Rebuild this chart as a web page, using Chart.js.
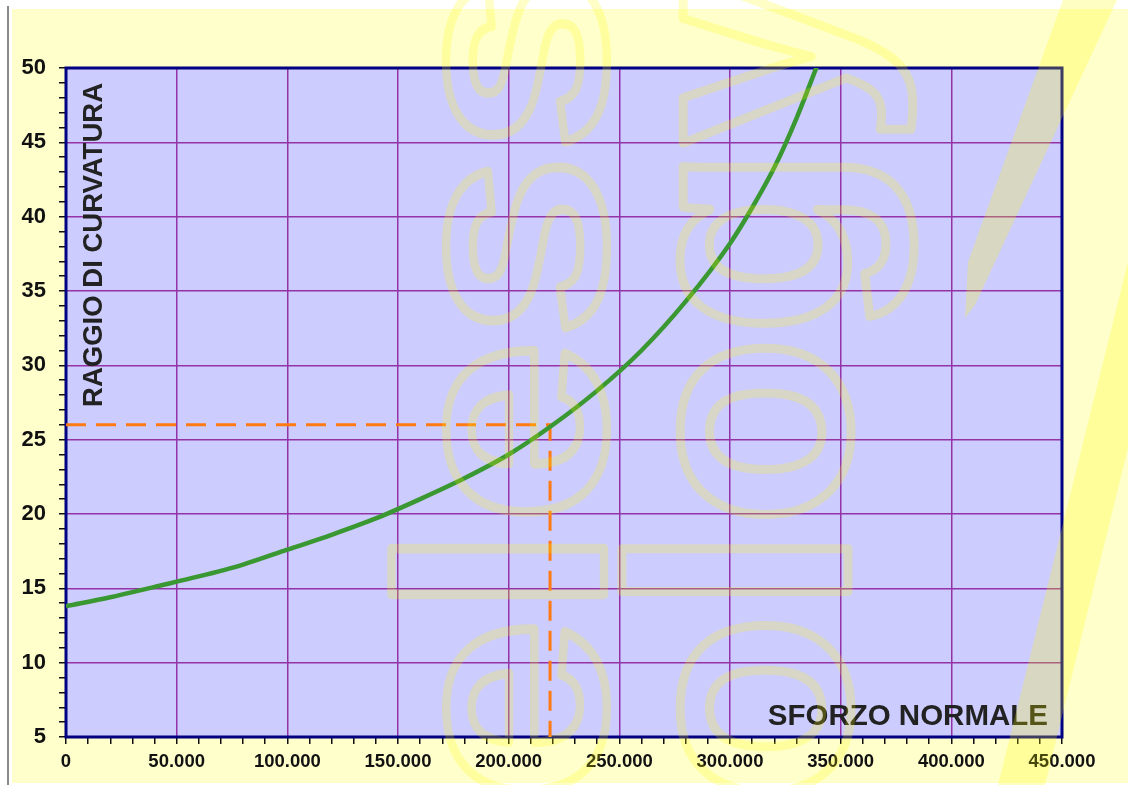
<!DOCTYPE html>
<html>
<head>
<meta charset="utf-8">
<script src="https://cdn.jsdelivr.net/npm/chart.js@4"></script>
<style>
  html, body { margin: 0; padding: 0; background: #fff; }
  canvas { display: block; }
</style>
</head>
<body>
<canvas id="grafico" width="1128" height="785"></canvas>
<script>
// dati
const sforzo = [0, 20000, 40000, 60000, 80000, 100000, 120000, 140000, 160000, 180000,
  200000, 220000, 240000, 260000, 280000, 300000, 310000, 320000, 330000, 340000];
const raggio = [13.8, 14.4, 15.1, 15.8, 16.6, 17.6, 18.6, 19.7, 21.0, 22.4,
  24.0, 26.0, 28.3, 31.0, 34.3, 38.2, 40.6, 43.3, 46.6, 50.4];

// punto di lettura (linea tratteggiata)
const sforzoLetto = 218700;
const raggioLetto = 26;

const xLabels = ['0', '50.000', '100.000', '150.000', '200.000', '250.000', '300.000', '350.000', '400.000', '450.000'];
const yLabels = [5, 10, 15, 20, 25, 30, 35, 40, 45, 50];

const W = 1128, H = 785;
const FONT = "'Liberation Sans', Arial, sans-serif";
const viola = '#9433a8';

const curva = sforzo.map((s, i) => ({ x: s, y: raggio[i] }));
const lettura = [
  { x: 0, y: raggioLetto },
  { x: sforzoLetto, y: raggioLetto },
  { x: sforzoLetto, y: yLabels[0] }
];

const sfondo = {
  id: 'sfondo',
  beforeDraw(chart) {
    const { ctx, chartArea: a } = chart;
    ctx.save();
    ctx.fillStyle = '#ffffff';
    ctx.fillRect(0, 0, W, H);
    ctx.fillStyle = '#ffffcc';
    ctx.fillRect(12, 9, W - 12, H - 11);
    ctx.fillStyle = '#8a8a8a';
    ctx.fillRect(7, 6, 2, H - 6);
    ctx.fillStyle = '#ccccff';
    ctx.fillRect(a.left, a.top, a.right - a.left, a.bottom - a.top);
    ctx.restore();
  },
  beforeDatasetsDraw(chart) {
    const { ctx, chartArea: a } = chart;
    ctx.save();
    ctx.strokeStyle = '#000080';
    ctx.lineWidth = 3;
    ctx.strokeRect(a.left, a.top, a.right - a.left, a.bottom - a.top);

    // titoli degli assi dentro il grafico
    ctx.fillStyle = '#222';
    ctx.font = 'bold 29.5px ' + FONT;
    ctx.textAlign = 'right';
    ctx.textBaseline = 'alphabetic';
    ctx.fillText('SFORZO NORMALE', a.right - 14, a.bottom - 12);

    ctx.translate(a.left + 28, a.top + 15);
    ctx.rotate(-Math.PI / 2);
    ctx.font = 'bold 27.5px ' + FONT;
    ctx.textAlign = 'right';
    ctx.textBaseline = 'middle';
    ctx.fillText('RAGGIO DI CURVATURA', 0, 0);
    ctx.restore();
  },
  afterDraw(chart) {
    // filigrana
    const { ctx } = chart;
    ctx.save();
    ctx.fillStyle = 'rgba(255,250,0,0.24)';
    ctx.beginPath();
    ctx.moveTo(1063, 0); ctx.lineTo(1117, 0); ctx.lineTo(975, 305);
    ctx.lineTo(965, 318); ctx.lineTo(968, 262);
    ctx.closePath();
    ctx.fill();
    ctx.beginPath();
    ctx.moveTo(1128, 262); ctx.lineTo(1128, 448); ctx.lineTo(1045, 785); ctx.lineTo(998, 785);
    ctx.closePath();
    ctx.fill();

    ctx.strokeStyle = 'rgba(255,250,0,0.22)';
    ctx.lineWidth = 9;
    ctx.lineJoin = 'round';
    ctx.font = 'bold 312px ' + FONT;
    ctx.textAlign = 'right';
    ctx.textBaseline = 'alphabetic';
    [['Wireless', 604, -32, 1.07, 0.94], ['Technology', 848, -28, 1, 1]].forEach(([t, x, y, sx, sy]) => {
      ctx.save();
      ctx.translate(x, y);
      ctx.rotate(-Math.PI / 2);
      ctx.scale(sx, sy);
      ctx.strokeText(t, 0, 0);
      ctx.restore();
    });
    ctx.restore();
  }
};

new Chart(document.getElementById('grafico'), {
  type: 'line',
  data: {
    datasets: [
      {
        data: curva,
        borderColor: '#3a9832',
        borderWidth: 4.5,
        pointRadius: 0,
        cubicInterpolationMode: 'monotone',
        fill: false
      },
      {
        data: lettura,
        borderColor: '#ff7a12',
        borderWidth: 3,
        borderDash: [20, 10],
        pointRadius: 0,
        tension: 0,
        fill: false
      }
    ]
  },
  options: {
    responsive: false,
    animation: false,
    events: [],
    layout: { padding: { top: 68, right: 66, left: 0, bottom: 0 } },
    plugins: {
      legend: { display: false },
      tooltip: { enabled: false }
    },
    scales: {
      x: {
        type: 'linear',
        min: 0,
        max: 450000,
        afterFit: s => { s.height = 48; },
        border: { display: false },
        grid: {
          color: c => (c.tick && c.tick.value % 50000 === 0) ? viola : 'rgba(0,0,0,0)',
          lineWidth: 1.5,
          tickColor: '#111',
          tickWidth: 1.5,
          tickLength: 7
        },
        ticks: {
          stepSize: 10000,
          autoSkip: false,
          maxRotation: 0,
          padding: 7,
          color: '#111',
          font: { family: FONT, size: 18.5, weight: 'bold' },
          callback: v => v % 50000 === 0 ? xLabels[v / 50000] : ''
        }
      },
      y: {
        type: 'linear',
        min: 5,
        max: 50,
        afterFit: s => { s.width = 66; },
        border: { display: false },
        grid: {
          color: c => (c.tick && c.tick.value % 5 === 0) ? viola : 'rgba(0,0,0,0)',
          lineWidth: 1.5,
          tickColor: '#111',
          tickWidth: 1.5,
          tickLength: 7
        },
        ticks: {
          stepSize: 1,
          autoSkip: false,
          padding: 13,
          color: '#111',
          font: { family: FONT, size: 22, weight: 'bold' },
          callback: v => yLabels.includes(v) ? String(v) : ''
        }
      }
    }
  },
  plugins: [sfondo]
});
</script>
</body>
</html>
